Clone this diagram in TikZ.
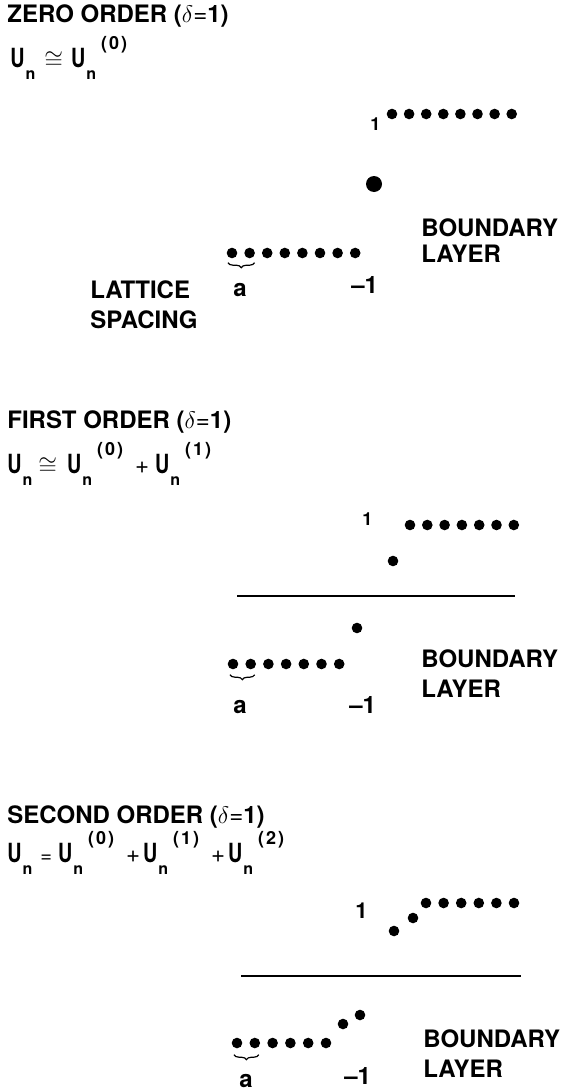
\documentclass[tikz,border=0pt]{standalone}
\usepackage{fontspec}
\setmainfont{TeX Gyre Heros}
\usetikzlibrary{decorations.pathreplacing}

\newcommand{\Un}{\scalebox{0.82}[1.1]{U}\kern0.5pt\raisebox{-6pt}{\fontsize{8}{8}\selectfont n}}
\newcommand{\Uo}[1]{\Un\kern2.5pt\raisebox{9pt}{\fontsize{9}{9}\selectfont(\kern1pt#1\kern1pt)}}

\tikzset{
  site/.style={circle, fill, inner sep=0pt, minimum size=5.3pt},
  bigsite/.style={circle, fill, inner sep=0pt, minimum size=8pt},
  txt/.style={anchor=base west, inner sep=0pt, font=\bfseries\fontsize{12}{15}\selectfont},
  small/.style={txt, font=\bfseries\fontsize{9}{9}\selectfont},
  spacing brace/.style={decorate, decoration={brace, mirror, amplitude=2.5pt}, line width=0.6pt},
  zero line/.style={line width=1.3pt}
}

\begin{document}
\begin{tikzpicture}[x=0.5pt, y=-0.5pt]
    \useasboundingbox (0, 0) rectangle (563, 1092);

    % zero order
    \node[txt] (head0) at (7, 23) {ZERO ORDER ($\delta${\mdseries =}1)};
    \node[txt] (eq0) at (10, 67) {\Un\hspace{4.5pt}$\cong$\hspace{4pt}\Uo{0}};
    \foreach \i in {0,...,7}
        \node[site] (top0\i) at ({392 + \i*17.1}, 114) {};
    \node[small] (one0) at (370, 130) {1};
    \node[bigsite] (mid0) at (374, 184) {};
    \foreach \i in {0,...,7}
        \node[site] (bot0\i) at ({232 + \i*17.6}, 253) {};
    \draw[spacing brace] ([xshift=-2pt, yshift=-2pt]bot00.south) -- ([xshift=2.5pt, yshift=-2pt]bot01.south);
    \node[txt] (a0) at (233, 296) {a};
    \node[txt] (minus0) at (351, 293) {--1};
    \node[txt] (lat0) at (90, 298) {LATTICE};
    \node[txt] (spc0) at (90, 328) {SPACING};
    \node[txt] (bnd0) at (421, 236) {BOUNDARY};
    \node[txt] (lay0) at (421, 262) {LAYER};

    % first order
    \node[txt] (head1) at (7, 428) {FIRST ORDER ($\delta${\mdseries =}1)};
    \node[txt] (eq1) at (7, 473) {\Un\hspace{3pt}$\cong$\hspace{5pt}\Uo{0}\hspace{6pt}{\mdseries +}\hspace{3pt}\Uo{1}};
    \foreach \i in {0,...,6}
        \node[site] (top1\i) at ({410 + \i*17.3}, 525) {};
    \node[small] (one1) at (362, 525) {1};
    \node[site] (up1) at (393, 561) {};
    \coordinate (zl1) at (237, 596);
    \coordinate (zr1) at (515, 596);
    \draw[zero line] (zl1) -- (zr1);
    \node[site] (dn1) at (357, 628) {};
    \foreach \i in {0,...,6}
        \node[site] (bot1\i) at ({233 + \i*17.7}, 664) {};
    \draw[spacing brace] ([xshift=-1.5pt, yshift=-2.5pt]bot10.south) -- ([xshift=2pt, yshift=-2.5pt]bot11.south);
    \node[txt] (a1) at (233, 713) {a};
    \node[txt] (minus1) at (349, 713) {--1};
    \node[txt] (bnd1) at (421, 667) {BOUNDARY};
    \node[txt] (lay1) at (421, 697) {LAYER};

    % second order
    \node[txt] (head2) at (7, 823) {SECOND ORDER ($\delta${\mdseries =}1)};
    \node[txt] (eq2) at (7, 862) {\Un\hspace{4pt}{\mdseries\fontsize{10}{10}\selectfont =}\hspace{3pt}\Uo{0}\hspace{6pt}{\mdseries +}\hspace{1.5pt}\Uo{1}\hspace{6pt}{\mdseries +}\hspace{1.5pt}\Uo{2}};
    \foreach \i in {0,...,5}
        \node[site] (top2\i) at ({426 + \i*17.6}, 903) {};
    \node[txt, font=\bfseries\fontsize{11}{11}\selectfont] (one2) at (355, 918) {1};
    \node[site] (upa2) at (394, 931) {};
    \node[site] (upb2) at (413, 918) {};
    \coordinate (zl2) at (241, 976);
    \coordinate (zr2) at (521, 976);
    \draw[zero line] (zl2) -- (zr2);
    \node[site] (dna2) at (343, 1024) {};
    \node[site] (dnb2) at (360, 1015) {};
    \foreach \i in {0,...,5}
        \node[site] (bot2\i) at ({237 + \i*17.8}, 1043) {};
    \draw[spacing brace] ([xshift=-1.5pt, yshift=-3pt]bot20.south) -- ([xshift=2pt, yshift=-3pt]bot21.south);
    \node[txt] (a2) at (239, 1087) {a};
    \node[txt] (minus2) at (344, 1084) {--1};
    \node[txt] (bnd2) at (423, 1047) {BOUNDARY};
    \node[txt] (lay2) at (423, 1077) {LAYER};
\end{tikzpicture}
\end{document}
